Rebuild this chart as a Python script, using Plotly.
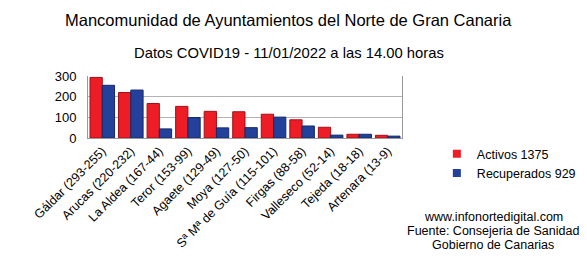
import plotly.graph_objects as go

categories = ["Gáldar (293-255)", "Arucas (220-232)", "La Aldea (167-44)", "Teror (153-99)",
              "Agaete (129-49)", "Moya (127-50)", "Sª Mª de Guía (115-101)", "Firgas (88-58)",
              "Valleseco (52-14)", "Tejeda (18-18)", "Artenara (13-9)"]
activos = [293, 220, 167, 153, 129, 127, 115, 88, 52, 18, 13]
recuperados = [255, 232, 44, 99, 49, 50, 101, 58, 14, 18, 9]
series_names = ["Activos 1375", "Recuperados 929"]
y_ticks = [0, 100, 200, 300]

FONT = "Liberation Sans, Arial, sans-serif"
RED, BLUE = "#ee1c25", "#23419a"

fig = go.Figure()
fig.add_trace(go.Bar(x=categories, y=activos, name=series_names[0], showlegend=False,
                     marker=dict(color=RED, line=dict(color="#a01018", width=1))))
fig.add_trace(go.Bar(x=categories, y=recuperados, name=series_names[1], showlegend=False,
                     marker=dict(color=BLUE, line=dict(color="#14286a", width=1))))
# legend entries with small square keys
for nm, col in zip(series_names, [RED, BLUE]):
    fig.add_trace(go.Scatter(x=[None], y=[None], mode="markers", name=nm,
                             marker=dict(symbol="square", size=8, color=col)))

fig.update_layout(
    width=587, height=265,
    margin=dict(l=88, r=185, t=76, b=127, autoexpand=False),
    paper_bgcolor="white", plot_bgcolor="white",
    font=dict(family=FONT, color="#000", size=13),
    barmode="group", bargap=0.14, bargroupgap=0.0,
    showlegend=True,
    legend=dict(x=1.111, y=-0.02, xanchor="left", yanchor="top",
                font=dict(size=12.5), itemwidth=30, tracegroupgap=0,
                bgcolor="rgba(0,0,0,0)"),
    title=None,
)
fig.update_xaxes(showgrid=False, tickangle=-45, tickfont=dict(size=12.5),
                 showline=True, linecolor="#999", linewidth=1, mirror=False,
                 ticks="", automargin=False)
fig.update_yaxes(range=[0, 300], tickvals=y_ticks, showgrid=True, gridcolor="#b3b3b3",
                 gridwidth=1, showline=True, linecolor="#999", linewidth=1, mirror=True,
                 tickfont=dict(size=13), ticks="outside", ticklen=8, tickcolor="white",
                 zeroline=False, automargin=False)

fig.add_annotation(text="Mancomunidad de Ayuntamientos del Norte de Gran Canaria",
                   xref="paper", yref="paper", x=(288 - 88) / (587 - 88 - 185), y=1,
                   xanchor="center", yanchor="middle", yshift=76 - 20,
                   showarrow=False, font=dict(size=16.5))
fig.add_annotation(text="Datos COVID19 - 11/01/2022 a las 14.00 horas",
                   xref="paper", yref="paper", x=(289 - 88) / (587 - 88 - 185), y=1,
                   xanchor="center", yanchor="middle", yshift=76 - 53,
                   showarrow=False, font=dict(size=14.8))
for txt, yy in [("www.infonortedigital.com", 217), ("Fuente: Consejeria de Sanidad", 231),
                ("Gobierno de Canarias", 245)]:
    fig.add_annotation(text=txt, xref="paper", yref="paper",
                       x=(493 - 88) / (587 - 88 - 185), y=0, xanchor="center",
                       yanchor="middle", yshift=-(yy - 138), showarrow=False,
                       font=dict(size=12.5))

fig.write_html("out.html")
